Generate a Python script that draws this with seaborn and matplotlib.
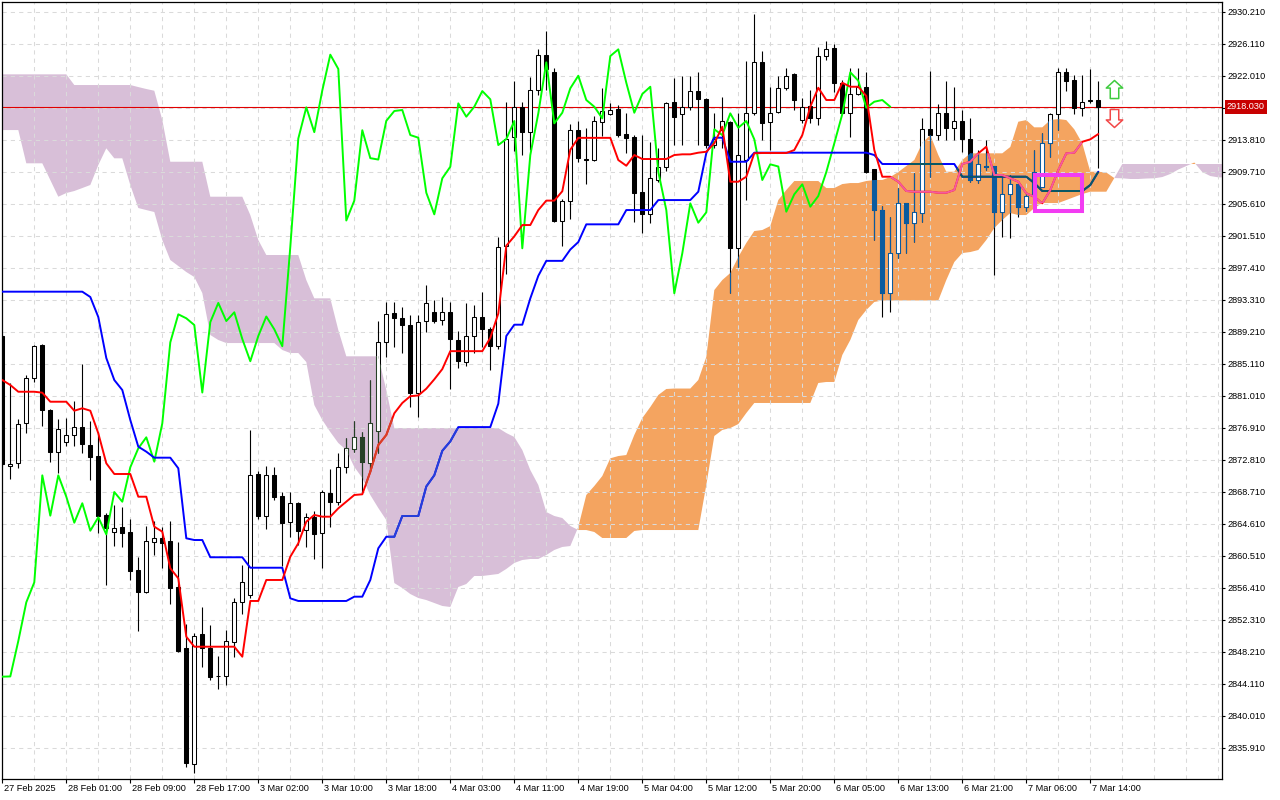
import numpy as np
import matplotlib
matplotlib.use("Agg")
import matplotlib.pyplot as plt
import matplotlib.transforms as mtransforms
from matplotlib.path import Path
from matplotlib.patches import Rectangle
import seaborn as sns

# ---------------- data (H1 bars) ----------------
opens = [
    2888.66, 2872.00, 2872.35, 2877.47, 2883.24, 2887.51, 2879.18, 2873.84, 2875.12, 2875.94,
    2876.96, 2874.66, 2873.28, 2865.69, 2863.51, 2864.15, 2863.55, 2858.68, 2855.90, 2862.31,
    2862.74, 2862.39, 2856.54, 2848.65, 2833.78, 2850.44, 2848.72, 2845.14, 2845.14, 2849.41,
    2854.62, 2855.44, 2870.98, 2865.64, 2870.81, 2868.16, 2864.79, 2867.23, 2863.80, 2865.43,
    2863.38, 2868.51, 2867.43, 2871.91, 2874.18, 2875.68, 2872.43, 2876.53, 2887.85, 2891.57,
    2890.93, 2890.11, 2881.42, 2890.58, 2891.70, 2890.72, 2891.70, 2888.17, 2885.28, 2888.66,
    2891.16, 2889.52, 2887.35, 2900.23, 2914.11, 2917.96, 2914.78, 2920.13, 2924.71, 2922.55,
    2903.46, 2906.01, 2915.03, 2911.36, 2911.17, 2916.14, 2917.06, 2917.71, 2914.54, 2914.20,
    2907.07, 2904.25, 2908.65, 2910.35, 2918.60, 2917.06, 2918.04, 2920.05, 2919.03, 2913.13,
    2915.05, 2916.12, 2899.90, 2911.21, 2917.19, 2923.73, 2916.04, 2917.32, 2920.40, 2922.23,
    2916.33, 2918.17, 2916.55, 2924.53, 2925.52, 2921.11, 2917.27, 2919.67, 2920.52, 2910.06,
    2904.80, 2894.13, 2899.26, 2905.66, 2903.18, 2904.38, 2915.14, 2914.41, 2917.19, 2915.35,
    2916.21, 2913.90, 2908.65, 2910.44, 2910.44, 2904.59, 2906.82, 2908.10, 2905.23, 2906.60,
    2907.79, 2913.43, 2917.10, 2922.45, 2921.46, 2917.91, 2918.77, 2918.90,
]
highs = [
    2888.79, 2882.60, 2878.03, 2883.66, 2887.51, 2887.63, 2879.30, 2878.03, 2878.11, 2880.33,
    2885.07, 2877.77, 2876.32, 2866.02, 2866.97, 2866.71, 2865.18, 2860.38, 2864.32, 2864.96,
    2864.23, 2864.96, 2862.31, 2851.76, 2850.64, 2853.98, 2851.63, 2847.66, 2850.99, 2855.05,
    2859.32, 2876.62, 2871.36, 2872.00, 2871.91, 2868.71, 2868.63, 2867.35, 2865.94, 2866.28,
    2868.93, 2871.58, 2873.63, 2875.55, 2877.77, 2876.32, 2883.02, 2890.58, 2892.98, 2892.98,
    2892.34, 2891.31, 2891.31, 2895.17, 2893.23, 2893.72, 2892.99, 2889.24, 2892.90, 2892.61,
    2894.35, 2889.86, 2901.33, 2918.64, 2921.33, 2918.64, 2921.82, 2925.39, 2927.70, 2923.02,
    2906.25, 2915.89, 2916.23, 2915.26, 2916.86, 2920.50, 2918.47, 2918.26, 2917.19, 2914.41,
    2914.41, 2913.55, 2912.71, 2918.68, 2921.68, 2921.97, 2921.97, 2922.52, 2919.19, 2917.23,
    2919.24, 2916.24, 2917.19, 2923.89, 2929.92, 2925.18, 2920.52, 2921.97, 2923.04, 2922.32,
    2919.12, 2920.18, 2925.73, 2926.46, 2926.07, 2921.46, 2922.96, 2922.96, 2922.52, 2910.10,
    2905.32, 2903.95, 2907.58, 2905.76, 2909.51, 2916.55, 2922.61, 2918.38, 2921.33, 2920.52,
    2917.62, 2916.55, 2912.49, 2913.77, 2910.50, 2909.07, 2909.29, 2908.20, 2907.15, 2912.49,
    2914.63, 2917.19, 2922.96, 2922.96, 2922.10, 2922.10, 2922.83, 2921.33,
]
lows = [
    2872.00, 2870.30, 2871.79, 2876.19, 2882.81, 2877.13, 2872.56, 2871.14, 2874.57, 2874.57,
    2873.71, 2870.21, 2863.46, 2856.76, 2861.79, 2861.66, 2857.40, 2850.90, 2855.77, 2860.60,
    2858.97, 2854.32, 2848.21, 2833.48, 2832.63, 2846.29, 2844.58, 2843.43, 2843.94, 2847.57,
    2853.04, 2855.05, 2865.18, 2863.89, 2867.65, 2859.19, 2862.94, 2861.88, 2861.66, 2860.05,
    2858.90, 2864.23, 2867.01, 2871.14, 2873.84, 2868.71, 2871.27, 2873.71, 2886.01, 2887.29,
    2886.52, 2879.59, 2878.29, 2889.13, 2890.34, 2890.01, 2881.91, 2884.56, 2884.80, 2886.48,
    2887.21, 2884.32, 2886.97, 2896.60, 2912.43, 2911.89, 2912.52, 2919.51, 2920.23, 2903.21,
    2900.23, 2903.70, 2910.98, 2908.17, 2911.07, 2914.28, 2916.98, 2914.20, 2912.07, 2903.30,
    2901.90, 2903.18, 2908.43, 2909.84, 2913.13, 2913.13, 2917.62, 2913.13, 2912.71, 2912.75,
    2912.71, 2894.13, 2897.54, 2906.08, 2916.98, 2913.77, 2912.49, 2917.19, 2920.18, 2917.62,
    2915.91, 2915.91, 2915.69, 2924.02, 2919.96, 2917.19, 2914.20, 2919.54, 2909.51, 2900.96,
    2891.13, 2891.77, 2898.62, 2899.26, 2900.74, 2903.30, 2909.07, 2913.77, 2913.77, 2913.77,
    2912.27, 2908.43, 2908.22, 2909.93, 2896.48, 2901.38, 2901.18, 2903.95, 2904.71, 2906.47,
    2907.70, 2911.63, 2915.05, 2920.09, 2917.10, 2916.85, 2918.51, 2910.15,
]
closes = [
    2872.26, 2872.22, 2877.35, 2883.24, 2887.38, 2879.14, 2873.84, 2876.71, 2875.94, 2876.96,
    2874.78, 2873.20, 2865.60, 2864.02, 2864.02, 2863.46, 2858.59, 2855.90, 2862.39, 2862.74,
    2862.18, 2856.33, 2848.30, 2833.91, 2850.22, 2848.65, 2845.01, 2845.04, 2849.58, 2854.54,
    2857.10, 2870.81, 2865.64, 2870.81, 2868.07, 2864.74, 2867.23, 2863.71, 2865.43, 2863.25,
    2868.67, 2867.43, 2871.84, 2874.27, 2875.68, 2872.56, 2877.47, 2887.85, 2891.44, 2890.93,
    2890.07, 2881.42, 2890.44, 2892.90, 2890.58, 2891.70, 2888.28, 2885.43, 2888.66, 2891.16,
    2889.52, 2887.35, 2900.08, 2913.96, 2917.96, 2914.78, 2920.13, 2924.71, 2922.88, 2903.46,
    2906.01, 2915.03, 2911.45, 2911.27, 2916.23, 2917.49, 2917.62, 2914.41, 2914.07, 2907.02,
    2904.25, 2908.87, 2910.35, 2918.47, 2916.76, 2918.04, 2920.05, 2918.99, 2913.13, 2913.90,
    2916.21, 2899.90, 2911.85, 2917.19, 2923.73, 2915.91, 2917.27, 2920.40, 2922.01, 2918.90,
    2918.04, 2916.55, 2924.53, 2925.39, 2921.11, 2917.27, 2919.67, 2920.60, 2909.71, 2904.80,
    2894.13, 2899.26, 2905.66, 2903.18, 2904.51, 2915.14, 2914.41, 2917.19, 2915.35, 2916.21,
    2913.86, 2908.65, 2910.66, 2910.38, 2904.59, 2906.82, 2908.10, 2905.23, 2906.60, 2909.67,
    2913.35, 2917.10, 2922.45, 2921.37, 2917.91, 2918.68, 2918.90, 2918.03,
]
tenkan = [
    2883.02, 2882.38, 2881.52, 2881.52, 2881.52, 2881.40, 2880.24, 2880.24, 2880.24, 2879.09,
    2879.40, 2879.09, 2876.19, 2872.35, 2870.98, 2870.98, 2870.98, 2868.07, 2868.07, 2864.23,
    2863.59, 2858.90, 2857.61, 2850.13, 2848.85, 2848.85, 2848.85, 2848.85, 2848.85, 2848.85,
    2847.57, 2854.71, 2854.71, 2857.40, 2857.40, 2857.40, 2860.38, 2862.10, 2864.87, 2865.73,
    2865.51, 2865.51, 2866.58, 2867.43, 2868.29, 2868.38, 2871.27, 2874.69, 2875.98, 2878.76,
    2880.08, 2880.95, 2881.04, 2881.91, 2883.11, 2884.42, 2886.72, 2886.72, 2886.72, 2886.72,
    2886.72, 2888.42, 2891.54, 2900.23, 2901.43, 2902.88, 2902.88, 2904.80, 2906.01, 2906.01,
    2907.21, 2912.52, 2914.05, 2914.05, 2914.05, 2914.05, 2914.05, 2911.21, 2910.48, 2911.85,
    2911.34, 2911.34, 2911.34, 2911.34, 2911.85, 2911.94, 2911.94, 2912.15, 2912.27, 2913.35,
    2915.48, 2908.43, 2908.43, 2909.07, 2912.07, 2912.11, 2912.11, 2912.11, 2912.11, 2912.49,
    2914.41, 2918.04, 2920.47, 2918.90, 2918.90, 2921.11, 2920.60, 2920.60, 2919.41, 2912.49,
    2909.07, 2909.07, 2908.43, 2907.24, 2907.15, 2907.15, 2907.15, 2907.02, 2907.02, 2907.37,
    2910.70, 2910.99, 2912.07, 2912.91, 2909.29, 2909.29, 2908.87, 2908.43, 2906.94, 2906.51,
    2905.66, 2907.37, 2909.93, 2912.07, 2912.15, 2913.55, 2913.86, 2914.54,
]
kijun = [
    2894.34, 2894.34, 2894.34, 2894.34, 2894.34, 2894.34, 2894.34, 2894.34, 2894.34, 2894.34,
    2894.34, 2893.66, 2891.09, 2885.84, 2883.02, 2881.74, 2877.90, 2874.48, 2873.84, 2873.07,
    2873.07, 2873.07, 2871.71, 2862.74, 2862.52, 2862.52, 2860.31, 2860.31, 2860.31, 2860.31,
    2860.31, 2858.97, 2858.97, 2858.97, 2858.97, 2858.97, 2855.05, 2854.71, 2854.71, 2854.71,
    2854.71, 2854.71, 2854.71, 2854.71, 2855.26, 2855.26, 2857.40, 2861.46, 2862.94, 2862.94,
    2865.60, 2865.60, 2865.60, 2869.38, 2870.82, 2873.95, 2875.16, 2876.99, 2876.99, 2876.99,
    2876.99, 2876.99, 2879.99, 2888.66, 2890.11, 2890.11, 2893.48, 2896.37, 2898.29, 2898.29,
    2898.29, 2899.74, 2900.70, 2902.97, 2902.97, 2902.97, 2902.97, 2902.97, 2904.80, 2904.80,
    2904.80, 2904.80, 2906.08, 2906.08, 2906.08, 2906.08, 2906.08, 2907.15, 2912.10, 2914.07,
    2914.07, 2910.99, 2910.99, 2910.99, 2912.15, 2912.15, 2912.15, 2912.15, 2912.15, 2912.15,
    2912.15, 2912.15, 2912.15, 2912.15, 2912.15, 2912.15, 2912.15, 2912.15, 2912.15, 2911.85,
    2910.70, 2910.70, 2910.70, 2910.70, 2910.70, 2910.70, 2910.70, 2910.70, 2910.70, 2910.70,
    2909.07, 2909.07, 2909.07, 2909.07, 2909.07, 2909.07, 2909.07, 2909.07, 2909.07, 2908.26,
    2907.24, 2907.24, 2907.24, 2907.24, 2907.24, 2907.24, 2908.01, 2909.71,
]
# Senkou spans, already shifted 26 bars ahead (154 positions)
span_a = [
    2915.05, 2915.05, 2915.05, 2910.79, 2910.79, 2910.79, 2908.65, 2906.51, 2906.98, 2907.24,
    2907.62, 2908.01, 2910.57, 2912.71, 2911.43, 2911.43, 2908.01, 2905.06, 2904.80, 2904.55,
    2900.96, 2898.40, 2897.63, 2896.86, 2896.22, 2894.17, 2888.79, 2888.15, 2887.76, 2887.76,
    2887.76, 2887.76, 2887.76, 2887.76, 2887.76, 2886.87, 2886.48, 2886.48, 2885.33, 2879.82,
    2877.90, 2876.36, 2874.95, 2874.05, 2871.88, 2870.47, 2868.29, 2866.62, 2865.08, 2857.01,
    2856.37, 2855.60, 2855.09, 2854.83, 2854.45, 2854.07, 2853.94, 2856.50, 2856.88, 2857.91,
    2857.91, 2858.04, 2858.17, 2858.81, 2859.58, 2859.96, 2860.09, 2860.09, 2860.60, 2861.24,
    2861.63, 2861.75, 2864.19, 2868.29, 2869.44, 2870.72, 2872.99, 2873.28, 2873.41, 2875.98,
    2878.15, 2879.56, 2881.10, 2881.87, 2881.93, 2881.93, 2881.93, 2883.02, 2885.97, 2894.55,
    2895.83, 2896.73, 2898.78, 2900.58, 2902.11, 2902.24, 2902.75, 2906.08, 2907.37, 2908.52,
    2908.52, 2908.52, 2908.52, 2907.62, 2907.62, 2908.13, 2908.26, 2908.26, 2908.52, 2908.65,
    2908.65, 2909.03, 2909.67, 2910.44, 2911.21, 2913.39, 2914.41, 2911.85, 2909.71, 2909.71,
    2911.21, 2912.07, 2912.07, 2912.07, 2912.07, 2912.07, 2912.88, 2916.12, 2916.33, 2915.40,
    2915.40, 2916.33, 2916.46, 2916.33, 2915.14, 2913.35, 2909.71, 2909.71, 2909.61, 2908.90,
    2908.87, 2908.78, 2908.78, 2908.84, 2908.87, 2909.03, 2909.42, 2909.99, 2910.44, 2910.89,
    2909.67, 2909.16, 2908.99, 2908.99,
]
span_b = [
    2922.19, 2922.19, 2922.19, 2922.19, 2922.19, 2922.19, 2922.19, 2922.19, 2922.19, 2920.82,
    2920.82, 2920.82, 2920.82, 2920.82, 2920.82, 2920.82, 2920.82, 2920.56, 2920.31, 2920.09,
    2916.33, 2910.99, 2910.99, 2910.99, 2910.99, 2910.99, 2906.51, 2906.51, 2906.51, 2906.51,
    2906.51, 2904.16, 2900.96, 2899.04, 2899.04, 2899.04, 2899.04, 2899.04, 2895.83, 2893.49,
    2893.49, 2893.49, 2889.43, 2886.06, 2886.06, 2886.06, 2886.06, 2886.06, 2881.74, 2876.87,
    2876.87, 2876.87, 2876.87, 2876.87, 2876.87, 2876.87, 2876.87, 2876.87, 2876.87, 2876.87,
    2876.87, 2876.87, 2876.87, 2876.23, 2875.72, 2874.05, 2871.49, 2869.57, 2866.11, 2865.60,
    2865.34, 2864.32, 2863.80, 2863.80, 2863.55, 2862.78, 2862.78, 2862.78, 2862.78, 2863.68,
    2863.80, 2863.80, 2863.80, 2863.80, 2863.80, 2863.80, 2863.80, 2863.80, 2869.57, 2875.85,
    2876.62, 2876.87, 2877.38, 2878.79, 2880.08, 2880.08, 2880.08, 2880.08, 2880.08, 2880.08,
    2880.08, 2880.08, 2882.64, 2882.77, 2882.77, 2886.23, 2888.15, 2890.71, 2891.99, 2893.02,
    2893.21, 2893.21, 2893.21, 2893.21, 2893.21, 2893.21, 2893.21, 2893.21, 2895.83, 2898.14,
    2899.29, 2899.42, 2899.68, 2900.96, 2902.50, 2903.52, 2904.42, 2904.16, 2904.16, 2905.06,
    2905.70, 2905.70, 2905.70, 2906.08, 2906.47, 2906.85, 2907.15, 2907.15, 2907.15, 2908.90,
    2910.70, 2910.70, 2910.70, 2910.70, 2910.70, 2910.70, 2910.70, 2910.70, 2910.70, 2910.70,
    2910.70, 2910.70, 2910.70, 2910.70,
]
chikou_shift = 26
x_tick_bars = [0, 8, 16, 24, 32, 40, 48, 56, 64, 72, 80, 88, 96, 104, 112, 120, 128, 136]
x_tick_labels = ["27 Feb 2025", "28 Feb 01:00", "28 Feb 09:00", "28 Feb 17:00", "3 Mar 02:00",
                 "3 Mar 10:00", "3 Mar 18:00", "4 Mar 03:00", "4 Mar 11:00", "4 Mar 19:00",
                 "5 Mar 04:00", "5 Mar 12:00", "5 Mar 20:00", "6 Mar 05:00", "6 Mar 13:00",
                 "6 Mar 21:00", "7 Mar 06:00", "7 Mar 14:00"]
y_tick_values = [2835.91, 2840.01, 2844.11, 2848.21, 2852.31, 2856.41, 2860.51, 2864.61,
                 2868.71, 2872.81, 2876.91, 2881.01, 2885.11, 2889.21, 2893.31, 2897.41,
                 2901.51, 2905.61, 2909.71, 2913.81, 2917.91, 2922.01, 2926.11, 2930.21]
y_tick_labels = ["2835.910", "2840.010", "2844.110", "2848.210", "2852.310", "2856.410",
                 "2860.510", "2864.610", "2868.710", "2872.810", "2876.910", "2881.010",
                 "2885.110", "2889.210", "2893.310", "2897.410", "2901.510", "2905.610",
                 "2909.710", "2913.810", "", "2922.010", "2926.110", "2930.210"]
last_price = 2918.03
last_price_label = "2918.030"
zone_bars = [129.05, 134.96]
zone_prices = [2904.71, 2909.33]
signal_bar = 138.9
up_arrow_price = 2920.29
down_arrow_price = 2916.59

# ---------------- styling ----------------
sns.set_theme(style="white")
plt.rcParams['font.family'] = ['Liberation Sans', 'DejaVu Sans']
plt.rcParams['lines.scale_dashes'] = False

ORANGE = '#F4A460'
PURPLE = '#D8BFD8'

fig = plt.figure(figsize=(12.8, 8), dpi=100)
fig.patch.set_facecolor('white')
ax = fig.add_axes([2.3 / 1280, 20.7 / 800, 1220 / 1280, 777 / 800])
ax.set_facecolor('white')

bars = np.arange(len(closes))
O = np.array(opens); H = np.array(highs); L = np.array(lows); C = np.array(closes)
cx = np.arange(len(span_a))
A = np.array(span_a); B = np.array(span_b)

# cloud
orange_fill = ax.fill_between(cx, A, B, where=A >= B, interpolate=True, color=ORANGE,
                              lw=0, zorder=1)
purple_fill = ax.fill_between(cx, A, B, where=A < B, interpolate=True, color=PURPLE,
                              lw=0, zorder=1)
orange_clip = Path.make_compound_path(*orange_fill.get_paths())
purple_clip = Path.make_compound_path(*purple_fill.get_paths())

# current price line
ax.axhline(last_price, color='#E00000', lw=0.8, zorder=2)


def draw_candles(wick_c, bear_c, edge_c, clip=None, z=3.0):
    wicks = ax.vlines(bars, L, H, colors=wick_c, lw=0.8, zorder=z)
    bull = C >= O
    bottoms = np.minimum(O, C)
    heights = np.abs(C - O)
    fcs = ['white' if b else bear_c for b in bull]
    bc = ax.bar(bars, heights, width=0.5, bottom=bottoms, color=fcs, edgecolor=edge_c,
                linewidth=0.75, zorder=z + 0.05)
    if clip is not None:
        wicks.set_clip_path(clip, ax.transData)
        for p in bc.patches:
            p.set_clip_path(clip, ax.transData)


draw_candles('black', 'black', 'black', None, 3.0)
draw_candles('#0B5B9F', '#0B5B9F', '#0B5B9F', orange_clip, 3.2)
draw_candles('#274027', '#274027', '#274027', purple_clip, 3.4)

# chikou span
n_ch = len(closes) - chikou_shift
sns.lineplot(x=bars[:n_ch], y=C[chikou_shift:], color='#00FF00', lw=1.4, ax=ax,
             estimator=None, sort=False, zorder=4)

# kijun
sns.lineplot(x=bars, y=kijun, color='#0000FF', lw=1.4, ax=ax, estimator=None,
             sort=False, zorder=4.2)
k1, = ax.plot(bars, kijun, color='#0B5B60', lw=1.4, zorder=4.3)
k1.set_clip_path(orange_clip, ax.transData)
k2, = ax.plot(bars, kijun, color='#2740D8', lw=1.4, zorder=4.3)
k2.set_clip_path(purple_clip, ax.transData)

# tenkan
sns.lineplot(x=bars, y=tenkan, color='#FF0000', lw=1.4, ax=ax, estimator=None,
             sort=False, zorder=4.4)
t1, = ax.plot(bars, tenkan, color='#F45B9F', lw=1.4, zorder=4.5)
t1.set_clip_path(orange_clip, ax.transData)
t2, = ax.plot(bars, tenkan, color='#D84027', lw=1.4, zorder=4.5)
t2.set_clip_path(purple_clip, ax.transData)

# zone rectangle
ax.add_patch(Rectangle((zone_bars[0], zone_prices[0]), zone_bars[1] - zone_bars[0],
                       zone_prices[1] - zone_prices[0], fill=False, ec='#F23CF2',
                       lw=2.9, joinstyle='miter', zorder=8))

# signal arrows
up_verts = [(0, 1), (0.91, 0.16), (0.47, 0.16), (0.47, -1), (-0.47, -1), (-0.47, 0.16),
            (-0.91, 0.16), (0, 1)]
down_verts = [(x, -y) for x, y in up_verts]
ax.plot([signal_bar], [up_arrow_price], marker=Path(up_verts, closed=True), ms=13,
        mfc='white', mec='#3FCB3F', mew=1.1, ls='none', zorder=9)
ax.plot([signal_bar], [down_arrow_price], marker=Path(down_verts, closed=True), ms=13,
        mfc='white', mec='#F24848', mew=1.1, ls='none', zorder=9)

# axes
ax.set_xlim(0, 152.5)
ax.set_ylim(2831.86, 2931.42)
ax.set(xlabel=None, ylabel=None)
for s in ax.spines.values():
    s.set_color('black')
    s.set_linewidth(0.9)

ax.yaxis.tick_right()
ax.set_yticks(y_tick_values)
ax.set_yticklabels(y_tick_labels)
ax.set_xticks(x_tick_bars)
ax.set_xticklabels(x_tick_labels, ha='left')
ax.set_xticks(list(range(0, 153, 4)), minor=True)
ax.tick_params(axis='x', which='major', direction='out', length=3, width=0.8, pad=0.7,
               labelsize=6.6, colors='black', bottom=True)
ax.tick_params(axis='x', which='minor', length=0, bottom=False)
ax.tick_params(axis='y', which='major', direction='out', length=2.5, width=0.8, pad=1.2,
               labelsize=6.6, colors='black', right=True, left=False, labelright=True,
               labelleft=False)
shift = mtransforms.ScaledTranslation(2 / 100, 0, fig.dpi_scale_trans)
for lab in ax.get_xticklabels():
    lab.set_transform(lab.get_transform() + shift)

ax.set_axisbelow('line')
ax.grid(True, which='both', axis='x', color='#DADADA', lw=0.75, linestyle=(0, (3, 3)))
ax.grid(True, which='major', axis='y', color='#DADADA', lw=0.75, linestyle=(0, (3, 3)))

# price tag
trans = mtransforms.blended_transform_factory(ax.transAxes, ax.transData)
ax.text(1.0 + 4.5 / 1220, last_price, last_price_label, transform=trans, ha='left',
        va='center', color='white', fontsize=6.6, clip_on=False, zorder=10,
        bbox=dict(boxstyle='square,pad=0.25', fc='#C80000', ec='none'))

fig.savefig('out.png', dpi=100)
